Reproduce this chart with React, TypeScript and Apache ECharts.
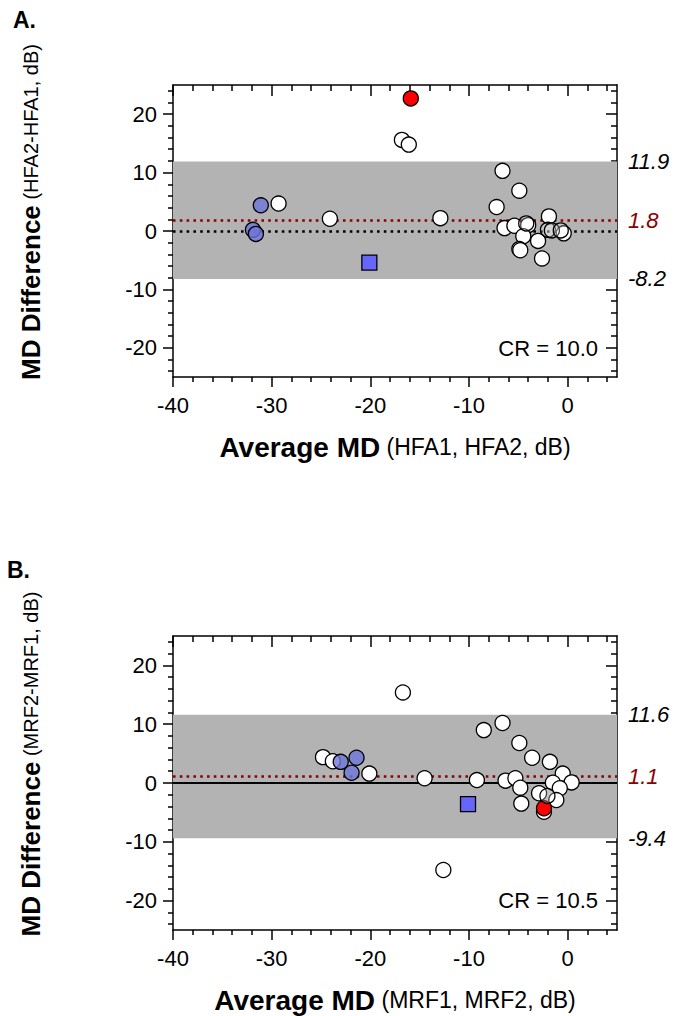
import React, { useEffect, useRef } from "react";
import * as echarts from "echarts";

// ---------- data ----------
const xMajorTicks = [-40, -30, -20, -10, 0];
const xMinorTicks = [-38, -36, -34, -32, -28, -26, -24, -22, -18, -16, -14, -12, -8, -6, -4, -2, 2, 4];
const yMajorTicks = [-20, -10, 0, 10, 20];
const yMinorTicks = [-24, -22, -18, -16, -14, -12, -8, -6, -4, -2, 2, 4, 6, 8, 12, 14, 16, 18, 22, 24];

// Panel A (HFA)
const topWhite = [
  [-16.8, 15.6], [-16.1, 14.8], [-29.3, 4.7], [-24.1, 2.1], [-12.9, 2.2],
  [-6.6, 10.3], [-4.9, 6.9], [-7.2, 4.1], [-1.9, 2.5], [-6.4, 0.5], [-5.4, 0.9],
  [-4.0, 1.0], [-4.5, -0.9], [-3.0, -1.7], [-4.9, -3.1], [-4.8, -3.3], [-2.6, -4.7],
  [-0.4, -0.4],
];
const topFaded = [[-4.2, 1.3], [-2.0, 0.2], [-1.6, 0.1], [-0.7, 0.1]];
const topBlue = [[-31.1, 4.4], [-31.9, 0.2], [-31.6, -0.5]];
const topSquare = [[-20.1, -5.4]];
const topRed = [[-15.9, 22.7]];
const topLimits = { upper: 11.9, mean: 1.8, lower: -8.2 };
const topCR = "CR = 10.0";

// Panel B (MRF)
const bottomWhite = [
  [-16.7, 15.4], [-8.5, 9.0], [-6.6, 10.2], [-4.9, 6.8], [-3.6, 4.3], [-1.8, 3.6],
  [-0.5, 1.6], [0.4, 0.1], [-24.8, 4.4], [-23.8, 3.7], [-20.1, 1.6], [-14.5, 0.8],
  [-9.2, 0.5], [-6.3, 0.4], [-5.3, 0.8], [-4.8, -0.8], [-4.7, -3.5], [-1.5, 0.05],
  [-0.8, -0.9], [-1.15, -2.9], [-2.9, -1.75], [-2.4, -4.9], [-12.6, -14.8],
];
const bottomFaded = [[-2.05, -2.2]];
const bottomBlue = [[-23.0, 3.6], [-21.4, 4.3], [-21.9, 1.75]];
const bottomSquare = [[-10.1, -3.6]];
const bottomRed = [[-2.4, -4.3]];
const bottomLimits = { upper: 11.6, mean: 1.1, lower: -9.4 };
const bottomCR = "CR = 10.5";

// ---------- style ----------
const FONT = "'Liberation Sans', Arial, Helvetica, sans-serif";
const DARKRED = "#8b0000";
const GRIDS = [
  { left: 173, top: 85, width: 444, height: 292 },
  { left: 173, top: 636, width: 444, height: 294 },
];

const tickLine = { color: "#000", width: 1.5 };
const mainLine = { show: true, onZero: false, lineStyle: { color: "#000", width: 1.5 } };
const noLine = { show: false, onZero: false };

function xAxes(g: number) {
  const base = { type: "value", gridIndex: g, min: -40, max: 5, splitLine: { show: false } };
  return [
    {
      ...base, position: "bottom", axisLine: mainLine,
      axisTick: { show: true, inside: false, length: 10, lineStyle: tickLine, customValues: xMajorTicks },
      axisLabel: { show: true, customValues: xMajorTicks, margin: 17, fontSize: 22, color: "#000", fontFamily: FONT },
    },
    {
      ...base, position: "bottom", axisLine: noLine,
      axisTick: { show: true, inside: false, length: 5, lineStyle: tickLine, customValues: xMinorTicks },
      axisLabel: { show: false },
    },
    {
      ...base, position: "top", axisLine: mainLine,
      axisTick: { show: true, inside: true, length: 11, lineStyle: tickLine, customValues: xMajorTicks },
      axisLabel: { show: false },
    },
    {
      ...base, position: "top", axisLine: noLine,
      axisTick: { show: true, inside: true, length: 6, lineStyle: tickLine, customValues: xMinorTicks },
      axisLabel: { show: false },
    },
  ];
}

function yAxes(g: number) {
  const base = { type: "value", gridIndex: g, min: -25, max: 25, splitLine: { show: false } };
  return [
    {
      ...base, position: "left", axisLine: mainLine,
      axisTick: { show: true, inside: false, length: 10, lineStyle: tickLine, customValues: yMajorTicks },
      axisLabel: { show: true, customValues: yMajorTicks, margin: 16, fontSize: 22, color: "#000", fontFamily: FONT },
    },
    {
      ...base, position: "left", axisLine: noLine,
      axisTick: { show: true, inside: false, length: 5, lineStyle: tickLine, customValues: yMinorTicks },
      axisLabel: { show: false },
    },
    {
      ...base, position: "right", axisLine: mainLine,
      axisTick: { show: true, inside: true, length: 11, lineStyle: tickLine, customValues: yMajorTicks },
      axisLabel: { show: false },
    },
    {
      ...base, position: "right", axisLine: noLine,
      axisTick: { show: true, inside: true, length: 6, lineStyle: tickLine, customValues: yMinorTicks },
      axisLabel: { show: false },
    },
  ];
}

function limitLabel(value: number, color: string, lineStyle: any) {
  return {
    yAxis: value,
    lineStyle,
    label: {
      show: true, position: "end", distance: 11, formatter: String(value),
      fontSize: 22, fontStyle: "italic", color, fontFamily: FONT,
    },
  };
}

function panelSeries(
  g: number,
  limits: { upper: number; mean: number; lower: number },
  zeroSolid: boolean,
  white: number[][], faded: number[][], blue: number[][], square: number[][], red: number[][],
  redFirst: boolean
) {
  const ax = { xAxisIndex: 4 * g, yAxisIndex: 4 * g };
  const border = { borderColor: "#000", borderWidth: 1.3, opacity: 1 };
  const dotted = { type: [2.6, 4.2], width: 2.6, cap: "butt" };
  const hidden = { color: "rgba(0,0,0,0)", width: 0, type: "solid" };
  const ref = {
    type: "scatter", ...ax, data: [], z: 1, silent: true,
    markArea: {
      silent: true, z: 1,
      itemStyle: { color: "#b3b3b3", opacity: 1 },
      data: [[{ yAxis: limits.lower }, { yAxis: limits.upper }]],
    },
    markLine: {
      silent: true, symbol: "none", z: 2,
      data: [
        limitLabel(limits.upper, "#000", hidden),
        limitLabel(limits.lower, "#000", hidden),
        {
          yAxis: 0,
          lineStyle: zeroSolid ? { color: "#000", width: 2, type: "solid" } : { color: "#000", ...dotted },
          label: { show: false },
        },
        limitLabel(limits.mean, DARKRED, { color: DARKRED, ...dotted }),
      ],
    },
  };
  const pt = (name: string, data: number[][], color: string, symbol = "circle", size = 15, z = 4) => ({
    type: "scatter", name, ...ax, data, symbol, symbolSize: size, z,
    itemStyle: { color, ...border },
  });
  const out: any[] = [ref, pt("white", white, "#ffffff")];
  if (redFirst) out.push(pt("red", red, "#ff0000"));
  out.push(pt("faded", faded, "rgba(255,255,255,0.25)"));
  out.push(pt("blue", blue, "rgba(110,118,218,0.8)"));
  out.push(pt("square", square, "#6666f8", "rect", 15));
  if (!redFirst) out.push(pt("red", red, "#ff0000"));
  return out;
}

function richTitle(bold: string, reg: string, boldSize: number, regSize: number) {
  return {
    text: `{b|${bold}}{r| ${reg}}`,
    rich: {
      b: { fontSize: boldSize, fontWeight: "bold", fontFamily: FONT, fill: "#000", color: "#000" },
      r: { fontSize: regSize, fontFamily: FONT, fill: "#000", color: "#000" },
    },
  };
}

export default function App() {
  const ref = useRef<HTMLDivElement>(null);
  useEffect(() => {
    document.body.style.margin = "0";
    const chart = echarts.init(ref.current!, null, { renderer: "svg" });
    chart.setOption({
      animation: false,
      backgroundColor: "#fff",
      grid: GRIDS.map((g) => ({ ...g, containLabel: false })),
      xAxis: [...xAxes(0), ...xAxes(1)],
      yAxis: [...yAxes(0), ...yAxes(1)],
      series: [
        ...panelSeries(0, topLimits, false, topWhite, topFaded, topBlue, topSquare, topRed, false),
        ...panelSeries(1, bottomLimits, true, bottomWhite, bottomFaded, bottomBlue, bottomSquare, bottomRed, true),
      ],
      graphic: [
        { type: "text", left: 13, top: 8, style: { text: "A.", fontSize: 23, fontWeight: "bold", fontFamily: FONT, fill: "#000" } },
        { type: "text", left: 7, top: 558, style: { text: "B.", fontSize: 23, fontWeight: "bold", fontFamily: FONT, fill: "#000" } },
        {
          type: "text", x: 31, y: 212, rotation: Math.PI / 2,
          style: { ...richTitle("MD Difference", "(HFA2-HFA1, dB)", 26, 20), align: "center", verticalAlign: "middle" },
        },
        {
          type: "text", x: 31, y: 764, rotation: Math.PI / 2,
          style: { ...richTitle("MD Difference", "(MRF2-MRF1, dB)", 26, 20), align: "center", verticalAlign: "middle" },
        },
        {
          type: "text", x: 395, y: 447,
          style: { ...richTitle("Average MD", "(HFA1, HFA2, dB)", 28, 23), align: "center", verticalAlign: "middle" },
        },
        {
          type: "text", x: 395, y: 1000,
          style: { ...richTitle("Average MD", "(MRF1, MRF2, dB)", 28, 23), align: "center", verticalAlign: "middle" },
        },
        { type: "text", x: 598, y: 348, style: { text: topCR, fontSize: 22, fontFamily: FONT, fill: "#000", align: "right", verticalAlign: "middle" } },
        { type: "text", x: 598, y: 900, style: { text: bottomCR, fontSize: 22, fontFamily: FONT, fill: "#000", align: "right", verticalAlign: "middle" } },
      ],
    });
    return () => chart.dispose();
  }, []);
  return <div ref={ref} style={{ width: 678, height: 1016 }} />;
}
